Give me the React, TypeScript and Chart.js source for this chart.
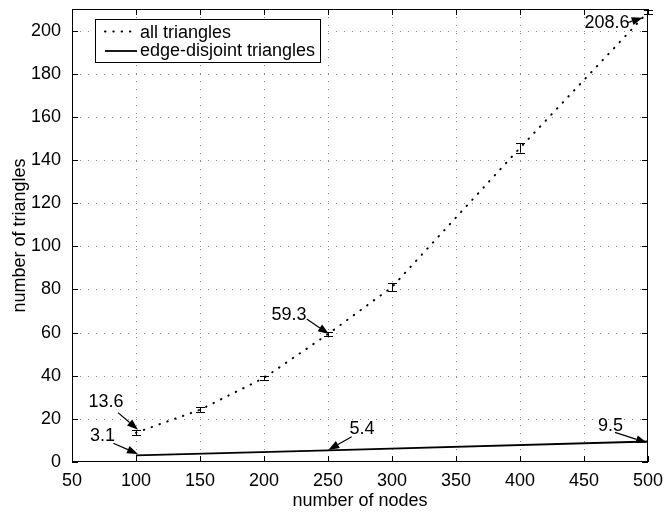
import React, { useEffect, useRef } from 'react';
import { Chart, registerables } from 'chart.js';

Chart.register(...registerables);

// ---------- data ----------
const nodes = [100, 150, 200, 250, 300, 400, 500];
const allTriangles = [13.6, 24.2, 39.0, 59.3, 81.1, 145.6, 208.6];
const allTrianglesErr = [1.2, 1.1, 1.0, 1.0, 1.8, 2.2, 0.8];
const disjointNodes = [100, 250, 500];
const disjointTriangles = [3.1, 5.4, 9.5];
const seriesNames = ['all triangles', 'edge-disjoint triangles'];
const xTitle = 'number of nodes';
const yTitle = 'number of triangles';
const xRange = [50, 500];
const yRange = [0, 210];
const xStep = 50;
const yStep = 20;

// annotated points: [series, index]
const annotatedPoints = [
  [0, 0],
  [1, 0],
  [0, 3],
  [1, 1],
  [1, 2],
  [0, 6],
];

// ---------- styles ----------
const FONT = '"Liberation Sans", Arial, Helvetica, sans-serif';
const FONT_SIZE = 18;
const GRID_COLOR = '#8a8a8a';
// offsets (px) relative to annotated point: text centre/baseline, arrow tail, arrow tip
const annotationStyle = [
  { text: [-30, -26], tail: [-18, -20], tip: [2, -3] },
  { text: [-33.5, -14.3], tail: [-22.7, -12], tip: [2, -1.3] },
  { text: [-39, -14.2], tail: [-21.3, -15], tip: [1, 0] },
  { text: [34, -16.4], tail: [23.7, -13.7], tip: [0.3, -0.4] },
  { text: [-37.5, -10.8], tail: [-33, -9.2], tip: [-1, 1.2] },
  { text: [-41, 15.8], tail: [-20, 10.5], tip: [-5.3, 5.8] },
];

const seriesX = [nodes, disjointNodes];
const seriesY = [allTriangles, disjointTriangles];

function drawArrow(ctx: CanvasRenderingContext2D, x0: number, y0: number, x1: number, y1: number) {
  const ang = Math.atan2(y1 - y0, x1 - x0);
  const headLen = 11;
  const headW = 4;
  const bx = x1 - headLen * Math.cos(ang);
  const by = y1 - headLen * Math.sin(ang);
  ctx.beginPath();
  ctx.moveTo(x0, y0);
  ctx.lineTo(bx, by);
  ctx.lineWidth = 1.2;
  ctx.stroke();
  ctx.beginPath();
  ctx.moveTo(x1, y1);
  ctx.lineTo(bx + headW * Math.sin(ang), by - headW * Math.cos(ang));
  ctx.lineTo(bx - headW * Math.sin(ang), by + headW * Math.cos(ang));
  ctx.closePath();
  ctx.fill();
}

const matlabPlugin = {
  id: 'matlabStyle',
  beforeDatasetsDraw(chart: any) {
    const { ctx, chartArea: a, scales } = chart;
    const xs = scales.x;
    const ys = scales.y;
    ctx.save();
    ctx.strokeStyle = GRID_COLOR;
    ctx.lineWidth = 1;
    ctx.setLineDash([1, 7]);
    xs.ticks.forEach((t: any) => {
      const px = Math.round(xs.getPixelForValue(t.value)) + 0.5;
      if (px <= a.left + 2 || px >= a.right - 2) return;
      ctx.beginPath();
      ctx.moveTo(px, a.top);
      ctx.lineTo(px, a.bottom);
      ctx.stroke();
    });
    ys.ticks.forEach((t: any) => {
      const py = Math.round(ys.getPixelForValue(t.value)) + 0.5;
      if (py <= a.top + 2 || py >= a.bottom - 2) return;
      ctx.beginPath();
      ctx.moveTo(a.left, py);
      ctx.lineTo(a.right, py);
      ctx.stroke();
    });
    ctx.restore();
  },
  afterDatasetsDraw(chart: any) {
    const { ctx, chartArea: a, scales } = chart;
    const xs = scales.x;
    const ys = scales.y;
    ctx.save();
    ctx.setLineDash([]);
    ctx.strokeStyle = '#000';
    ctx.fillStyle = '#000';

    // error bars
    ctx.lineWidth = 1;
    nodes.forEach((n, i) => {
      const px = Math.round(xs.getPixelForValue(n)) + 0.5;
      const lo = ys.getPixelForValue(allTriangles[i] - allTrianglesErr[i]);
      const hi = ys.getPixelForValue(allTriangles[i] + allTrianglesErr[i]);
      ctx.beginPath();
      ctx.moveTo(px, lo);
      ctx.lineTo(px, hi);
      ctx.moveTo(px - 4.5, Math.round(lo) + 0.5);
      ctx.lineTo(px + 4.5, Math.round(lo) + 0.5);
      ctx.moveTo(px - 4.5, Math.round(hi) + 0.5);
      ctx.lineTo(px + 4.5, Math.round(hi) + 0.5);
      ctx.stroke();
    });

    // axes box
    ctx.lineWidth = 1;
    ctx.strokeRect(a.left + 0.5, a.top + 0.5, a.right - a.left - 1, a.bottom - a.top - 1);
    // inward ticks
    const tl = 6;
    ctx.beginPath();
    xs.ticks.forEach((t: any) => {
      const px = Math.round(xs.getPixelForValue(t.value)) + 0.5;
      ctx.moveTo(px, a.bottom);
      ctx.lineTo(px, a.bottom - tl);
      ctx.moveTo(px, a.top);
      ctx.lineTo(px, a.top + tl);
    });
    ys.ticks.forEach((t: any) => {
      const py = Math.round(ys.getPixelForValue(t.value)) + 0.5;
      ctx.moveTo(a.left, py);
      ctx.lineTo(a.left + tl, py);
      ctx.moveTo(a.right, py);
      ctx.lineTo(a.right - tl, py);
    });
    ctx.stroke();

    // annotations
    ctx.font = `${FONT_SIZE}px ${FONT}`;
    ctx.textAlign = 'center';
    ctx.textBaseline = 'alphabetic';
    annotatedPoints.forEach(([s, i], k) => {
      const st = annotationStyle[k];
      const px = xs.getPixelForValue(seriesX[s][i]);
      const py = ys.getPixelForValue(seriesY[s][i]);
      ctx.fillText(seriesY[s][i].toFixed(1), px + st.text[0], py + st.text[1]);
      drawArrow(ctx, px + st.tail[0], py + st.tail[1], px + st.tip[0], py + st.tip[1]);
    });

    // legend
    const lx = a.left + 23;
    const ly = a.top + 10;
    const lw = 225;
    const lh = 43;
    ctx.fillStyle = '#fff';
    ctx.fillRect(lx, ly, lw, lh);
    ctx.strokeStyle = '#000';
    ctx.lineWidth = 1;
    ctx.strokeRect(lx + 0.5, ly + 0.5, lw, lh);
    ctx.fillStyle = '#000';
    ctx.textAlign = 'left';
    // row 1: dotted
    ctx.lineCap = 'round';
    ctx.lineWidth = 2;
    ctx.setLineDash([0.5, 7.8]);
    ctx.beginPath();
    ctx.moveTo(lx + 10, ly + 12.5);
    ctx.lineTo(lx + 42, ly + 12.5);
    ctx.stroke();
    ctx.setLineDash([]);
    ctx.lineCap = 'butt';
    // row 2: solid
    ctx.lineWidth = 1.8;
    ctx.beginPath();
    ctx.moveTo(lx + 10, ly + 32);
    ctx.lineTo(lx + 42, ly + 32);
    ctx.stroke();
    ctx.fillText(seriesNames[0], lx + 45, ly + 18.5);
    ctx.fillText(seriesNames[1], lx + 45, ly + 36.5);
    ctx.restore();
  },
};

export default function App() {
  const ref = useRef<HTMLCanvasElement | null>(null);
  useEffect(() => {
    if (!ref.current) return;
    Chart.defaults.font.family = FONT;
    Chart.defaults.font.size = FONT_SIZE;
    Chart.defaults.color = '#000';
    const chart = new Chart(ref.current, {
      type: 'line',
      data: {
        datasets: [
          {
            label: seriesNames[0],
            data: nodes.map((n, i) => ({ x: n, y: allTriangles[i] })),
            borderColor: '#000',
            borderWidth: 2,
            borderDash: [0.5, 7.8],
            borderCapStyle: 'round',
            pointRadius: 0,
            fill: false,
            tension: 0,
          },
          {
            label: seriesNames[1],
            data: disjointNodes.map((n, i) => ({ x: n, y: disjointTriangles[i] })),
            borderColor: '#000',
            borderWidth: 1.8,
            pointRadius: 0,
            fill: false,
            tension: 0,
          },
        ],
      },
      options: {
        animation: false,
        responsive: false,
        maintainAspectRatio: false,
        devicePixelRatio: 1,
        layout: { padding: { top: 9, right: 18, left: 0, bottom: 0 } },
        plugins: { legend: { display: false }, tooltip: { enabled: false } },
        scales: {
          x: {
            type: 'linear',
            min: xRange[0],
            max: xRange[1],
            ticks: { stepSize: xStep, padding: 0, color: '#000', font: { size: FONT_SIZE } },
            grid: { display: false },
            border: { display: false },
            title: { display: true, text: xTitle, color: '#000', font: { size: FONT_SIZE }, padding: { top: 0, bottom: 0 } },
            afterFit: (s: any) => {
              s.height = 50;
              s.paddingLeft = 0;
              s.paddingRight = 0;
            },
          },
          y: {
            type: 'linear',
            min: yRange[0],
            max: yRange[1],
            ticks: { stepSize: yStep, padding: 3, color: '#000', font: { size: FONT_SIZE } },
            afterBuildTicks: (s: any) => {
              s.ticks = s.ticks.filter((t: any) => t.value % yStep === 0);
            },
            grid: { display: false },
            border: { display: false },
            title: { display: true, text: yTitle, color: '#000', font: { size: FONT_SIZE }, padding: { top: 9, bottom: 0 } },
            afterFit: (s: any) => {
              s.width = 72;
              s.paddingTop = 0;
              s.paddingBottom = 0;
            },
          },
        },
      } as any,
      plugins: [matlabPlugin],
    });
    return () => chart.destroy();
  }, []);
  return (
    <div style={{ position: 'fixed', left: 0, top: 0, width: 666, height: 512, background: '#fff' }}>
      <canvas ref={ref} width={666} height={512} style={{ display: 'block', width: 666, height: 512 }} />
    </div>
  );
}
